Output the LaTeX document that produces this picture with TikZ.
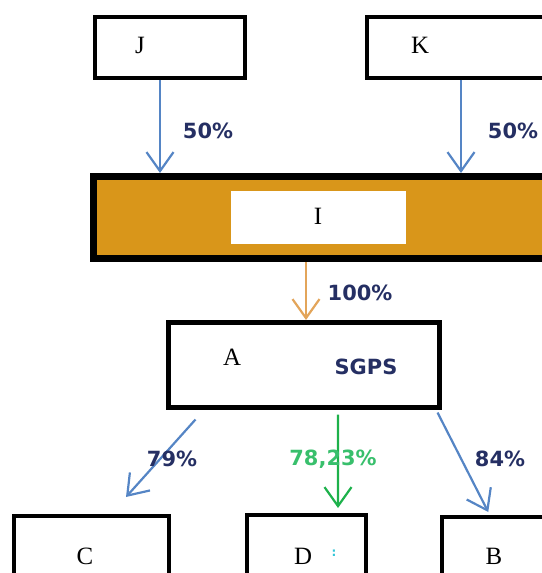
\documentclass[tikz,border=0pt]{standalone}
\usepackage{fontspec}
\setmainfont{Liberation Serif}
\newfontfamily\pctfont{DejaVu Sans}
\usetikzlibrary{arrows.meta}
\definecolor{barfill}{HTML}{D9961A}
\definecolor{bluearr}{HTML}{5585C5}
\definecolor{orangearr}{HTML}{E3A55A}
\definecolor{greenarr}{HTML}{1DB14B}
\definecolor{navytxt}{HTML}{252F63}
\definecolor{greentxt}{HTML}{38BF6C}
\definecolor{cyandot}{HTML}{33C6D8}
\tikzset{
  x=1bp, y=-1bp,
  box/.style={draw=black, line width=#1, fill=white, inner sep=0pt},
  box/.default=4bp,
  lbl/.style={font=\fontsize{25}{27}\selectfont, text=black, inner sep=0pt},
  pct/.style={font=\pctfont\bfseries\fontsize{21}{23}\selectfont, text=navytxt, inner sep=0pt},
  arr/.style={line width=2.2bp, -{Straight Barb[length=19bp, width=27bp, line width=2.2bp]}},
}
\begin{document}
\begin{tikzpicture}
\useasboundingbox (0,0) rectangle (542,573);
% top boxes
\node[box, minimum width=150bp, minimum height=61bp] (J) at (170,47.5) {};
\node[box, minimum width=233bp, minimum height=61bp] (K) at (483.5,47.5) {};
% bar
\node[box=7bp, fill=barfill, minimum width=527bp, minimum height=82bp] (I) at (356.75,217.5) {};
\node[fill=white, inner sep=0pt, minimum width=175bp, minimum height=53bp] (Iin) at (318.5,217.5) {};
% A box
\node[box=5bp, minimum width=271bp, minimum height=85bp] (A) at (304,365) {};
% bottom boxes
\node[box, minimum width=155.5bp, minimum height=104bp] (C) at (91.5,567.75) {};
\node[box, minimum width=119.5bp, minimum height=104bp] (D) at (306.5,566.75) {};
\node[box, minimum width=178bp, minimum height=104bp] (B) at (531,568.75) {};
% names
\node[lbl] (tJ) at (140,45) {J};
\node[lbl] (tK) at (420,45) {K};
\node[lbl] (tI) at (318,216) {I};
\node[lbl] (tA) at (232,357) {A};
\node[lbl] (tC) at (85,556) {C};
\node[lbl] (tD) at (303,556) {D};
\node[lbl] (tB) at (494,556) {B};
\node[pct] (tS) at (366,367) {SGPS};
\node[font=\pctfont\bfseries\fontsize{12}{12}\selectfont, text=cyandot, inner sep=0pt] (dots) at (334,553) {:};
% arrows
\draw[arr, bluearr] ([xshift=-10bp]J.south) -- ([xshift=-10bp]J.south |- I.north);
\draw[arr, bluearr] ([xshift=-22.5bp]K.south) -- ([xshift=-22.5bp]K.south |- I.north);
\draw[arr, orangearr] ([xshift=-50.75bp]I.south) -- ([xshift=-50.75bp]I.south |- A.north);
\draw[arr, bluearr] ([shift={(29.5,9.5)}]A.south west) -- ([shift={(34.5,-16.75)}]C.north);
\draw[arr, greenarr] ([shift={(34,4.5)}]A.south) -- ([shift={(31.5,-4.75)}]D.north);
\draw[arr, bluearr] ([shift={(-4.5,2.5)}]A.south east) -- ([shift={(48.25,-2.75)}]B.north west);
% percentages
\node[pct] (p1) at (208,131) {50\%};
\node[pct] (p2) at (513,131) {50\%};
\node[pct] (p3) at (360,293) {100\%};
\node[pct] (p4) at (172,459) {79\%};
\node[pct, text=greentxt] (p5) at (333,459) {78,23\%};
\node[pct] (p6) at (500,459) {84\%};
\end{tikzpicture}
\end{document}
